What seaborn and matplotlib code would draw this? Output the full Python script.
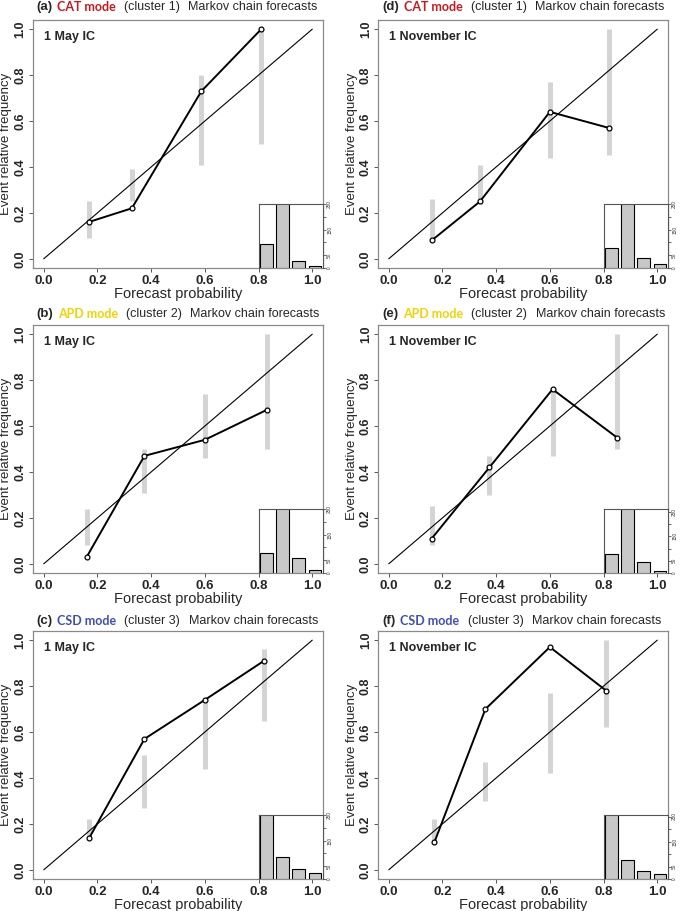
import numpy as np
import pandas as pd
import matplotlib
matplotlib.use("Agg")
import matplotlib.pyplot as plt
import seaborn as sns

sns.set_theme(style="white")
plt.rcParams['font.family'] = ['Liberation Sans', 'DejaVu Sans']

# ---------------- data ----------------
letters = ["a", "b", "c", "d", "e", "f"]
modes = ["CAT mode", "APD mode", "CSD mode", "CAT mode", "APD mode", "CSD mode"]
clusters = ["(cluster 1)", "(cluster 2)", "(cluster 3)", "(cluster 1)", "(cluster 2)", "(cluster 3)"]
ic_labels = ["1 May IC", "1 May IC", "1 May IC", "1 November IC", "1 November IC", "1 November IC"]
mode_colors = {"CAT mode": "#c8191e", "APD mode": "#f0d400", "CSD mode": "#3f4fb5"}

fcst_a = [0.167, 0.328, 0.587, 0.81]
obs_a = [0.16, 0.22, 0.73, 1.0]
lo_a = [0.09, 0.25, 0.41, 0.50]
hi_a = [0.25, 0.39, 0.80, 1.0]
hist_a = [94, 300, 29, 9]

fcst_b = [0.16, 0.375, 0.60, 0.83]
obs_b = [0.03, 0.47, 0.54, 0.67]
lo_b = [0.08, 0.31, 0.46, 0.50]
hi_b = [0.24, 0.50, 0.74, 1.0]
hist_b = [79, 300, 58, 12]

fcst_c = [0.17, 0.375, 0.60, 0.82]
obs_c = [0.14, 0.57, 0.74, 0.91]
lo_c = [0.13, 0.27, 0.44, 0.65]
hi_c = [0.22, 0.50, 0.75, 0.96]
hist_c = [300, 85, 40, 25]

fcst_d = [0.16, 0.34, 0.60, 0.82]
obs_d = [0.08, 0.25, 0.64, 0.57]
lo_d = [0.08, 0.24, 0.44, 0.45]
hi_d = [0.26, 0.41, 0.77, 1.0]
hist_d = [78, 300, 41, 17]

fcst_e = [0.16, 0.375, 0.61, 0.85]
obs_e = [0.11, 0.42, 0.76, 0.55]
lo_e = [0.08, 0.30, 0.47, 0.50]
hi_e = [0.25, 0.47, 0.76, 1.0]
hist_e = [78, 300, 46, 8]

fcst_f = [0.17, 0.36, 0.60, 0.81]
obs_f = [0.12, 0.70, 0.97, 0.78]
lo_f = [0.12, 0.30, 0.42, 0.62]
hi_f = [0.22, 0.47, 0.77, 1.0]
hist_f = [300, 76, 32, 20]

hist_ymax = [250, 248, 245, 250, 262, 256]

panels = [
    (fcst_a, obs_a, lo_a, hi_a, hist_a),
    (fcst_b, obs_b, lo_b, hi_b, hist_b),
    (fcst_c, obs_c, lo_c, hi_c, hist_c),
    (fcst_d, obs_d, lo_d, hi_d, hist_d),
    (fcst_e, obs_e, lo_e, hi_e, hist_e),
    (fcst_f, obs_f, lo_f, hi_f, hist_f),
]

xticks = [0.0, 0.2, 0.4, 0.6, 0.8, 1.0]
tick_labels = ["0.0", "0.2", "0.4", "0.6", "0.8", "1.0"]
hist_ticks = [0, 50, 100, 150, 200, 250]
hist_tick_labels = ["0", "50", "", "150", "", "250"]

# ---------------- layout ----------------
W, H = 685, 911
fig = plt.figure(figsize=(W / 100, H / 100), dpi=100)

col_left = [33, 378]
row_top = [20, 325, 631]
ax_w, ax_h = 290, 248
title_y = [7, 314, 621]
title_x = [36, 382]

frame_col = "#8a8a8a"

for i, (fc, ob, lo, hi, hist) in enumerate(panels):
    col = i // 3
    row = i % 3
    l = col_left[col] / W
    b = 1 - (row_top[row] + ax_h) / H
    ax = fig.add_axes([l, b, ax_w / W, ax_h / H])
    ax.set_xlim(-0.04, 1.04)
    ax.set_ylim(-0.04, 1.04)

    # diagonal
    diag = pd.DataFrame({"x": [0.0, 1.0], "y": [0.0, 1.0]})
    sns.lineplot(data=diag, x="x", y="y", ax=ax, color="black", lw=0.8, zorder=2)

    # gray uncertainty bars
    ax.vlines(fc, lo, hi, color="#d4d4d4", lw=3.6, zorder=1)

    # reliability curve
    df = pd.DataFrame({"fcst": fc, "obs": ob})
    sns.lineplot(data=df, x="fcst", y="obs", ax=ax, color="black", lw=1.4,
                 marker="o", markersize=3.5, markerfacecolor="white",
                 markeredgecolor="black", markeredgewidth=0.9, zorder=3,
                 sort=False)

    ax.set_xticks(xticks)
    ax.set_xticklabels(tick_labels, fontweight="bold", fontsize=9.5)
    ax.set_yticks(xticks)
    ax.set_yticklabels(tick_labels, fontweight="bold", fontsize=9,
                       rotation=90, va="center")
    ax.tick_params(axis="both", direction="out", length=3, width=0.7,
                   color="#555555", pad=2, bottom=True, left=True)
    ax.tick_params(axis="y", pad=1.5)
    ax.set_xlabel("Forecast probability", fontsize=10.5, labelpad=0)
    ax.set_ylabel("Event relative frequency", fontsize=9.5)
    ax.yaxis.label.set_va("center")
    ax.yaxis.set_label_coords(-26.5 / ax_w, 0.5)
    for s in ax.spines.values():
        s.set_color(frame_col)
        s.set_linewidth(0.9)

    ax.text(0.0, 0.965, ic_labels[i], fontsize=9, fontweight="bold",
            ha="left", va="center", transform=ax.transData)

    # inset histogram
    il = l + (0.84 / 1.08) * ax_w / W
    iw = (1 - 0.84 / 1.08) * ax_w / W
    ih = 64 / H
    ins = fig.add_axes([il, b, iw, ih])
    ins.set_facecolor("white")
    ins.bar([0.125, 0.375, 0.625, 0.875], hist, width=0.2, color="#c8c8c8",
            edgecolor="black", linewidth=0.8)
    ins.set_xlim(0, 1)
    ins.set_ylim(0, hist_ymax[i])
    ins.set_xticks([])
    ins.yaxis.tick_right()
    ins.set_yticks(hist_ticks)
    ins.set_yticklabels(hist_tick_labels, fontsize=3.4, rotation=90, va="center")
    ins.tick_params(axis="y", direction="out", length=2, width=0.5, pad=1,
                    right=True, left=False, colors="#333333")
    for name, s in ins.spines.items():
        s.set_linewidth(0.8)
        s.set_color("#555555")
    ins.spines["bottom"].set_visible(False)

    # title made of pieces
    ty = 1 - title_y[row] / H
    t1 = fig.text(title_x[col] / W, ty, f"({letters[i]})", fontsize=9.5,
                  fontweight="bold", ha="left", va="center")
    t2 = ax.annotate(modes[i], xy=(1, 0.5), xycoords=t1, xytext=(3.5, 0),
                     textcoords="offset points", fontsize=9, fontweight="bold",
                     color=mode_colors[modes[i]], ha="left", va="center",
                     family=["Lato", "DejaVu Sans"], annotation_clip=False)
    t3 = ax.annotate(clusters[i], xy=(1, 0.5), xycoords=t2, xytext=(6, 0),
                     textcoords="offset points", fontsize=9, ha="left",
                     va="center", annotation_clip=False)
    ax.annotate("Markov chain forecasts", xy=(1, 0.5), xycoords=t3,
                xytext=(6, 0), textcoords="offset points", fontsize=9,
                ha="left", va="center", annotation_clip=False)

fig.savefig("out.png", dpi=100)
